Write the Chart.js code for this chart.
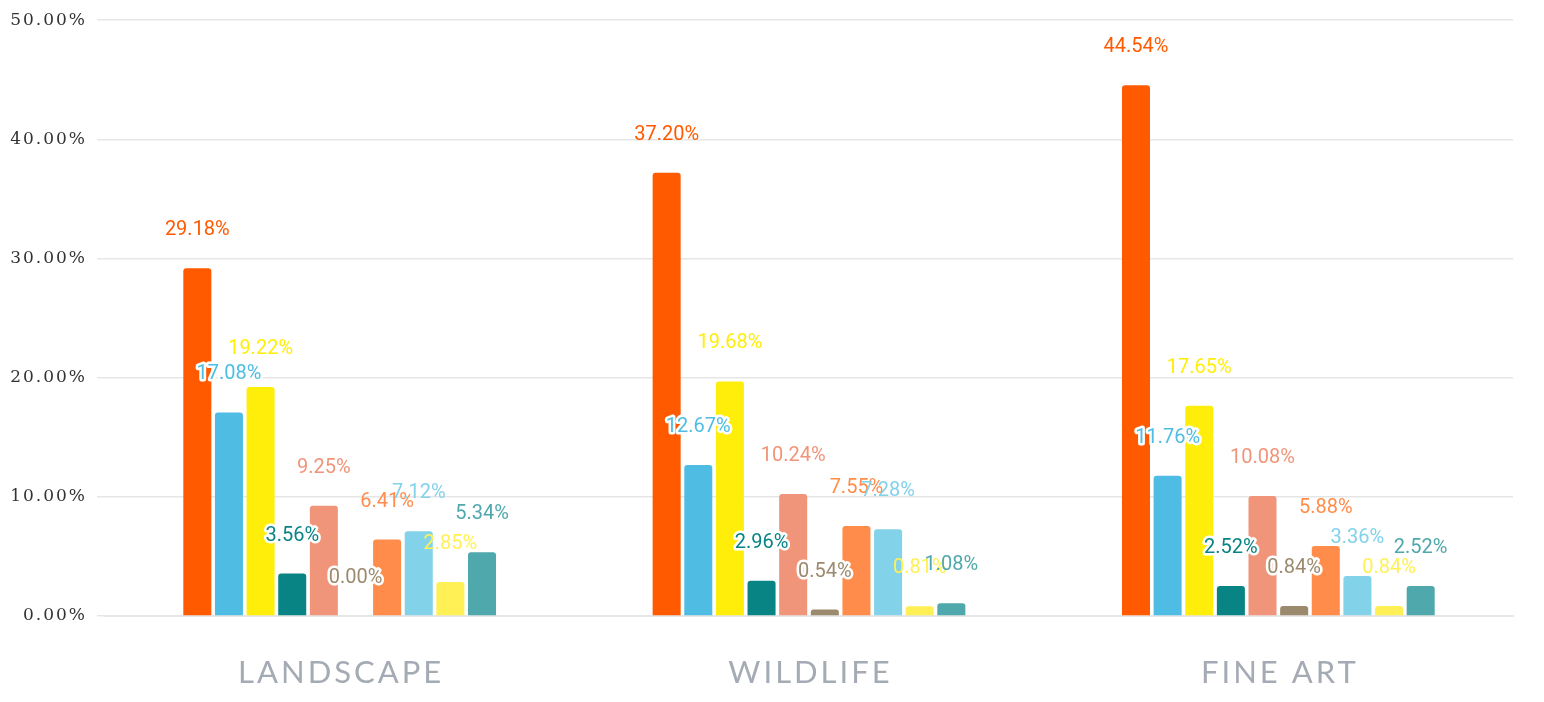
<!DOCTYPE html>
<html>
<head>
<meta charset="utf-8">
<script src="https://cdn.jsdelivr.net/npm/chart.js@4"></script>
<style>
  html, body { margin: 0; padding: 0; background: #fff; }
  #wrap { width: 1544px; height: 702px; }
</style>
</head>
<body>
<div id="wrap"><canvas id="genreChart"></canvas></div>
<script>
const categories = ['LANDSCAPE', 'WILDLIFE', 'FINE ART'];
const s1 = [29.18, 37.20, 44.54];
const s2 = [17.08, 12.67, 11.76];
const s3 = [19.22, 19.68, 17.65];
const s4 = [3.56, 2.96, 2.52];
const s5 = [9.25, 10.24, 10.08];
const s6 = [0.00, 0.54, 0.84];
const s7 = [6.41, 7.55, 5.88];
const s8 = [7.12, 7.28, 3.36];
const s9 = [2.85, 0.81, 0.84];
const s10 = [5.34, 1.08, 2.52];
const yTicks = [0, 10, 20, 30, 40, 50];

const series = [s1, s2, s3, s4, s5, s6, s7, s8, s9, s10];
const colors = ['#FF5A00', '#4FBDE3', '#FFEE0A', '#088484', '#F0957A',
                '#9C8A6E', '#FF8C4A', '#82D2EA', '#FFF155', '#4FA8AB'];
const outlined = [false, true, false, true, false, true, false, false, false, false];

// letter spaced text for the y ticks, reset afterwards
const spacing = {
  id: 'spacing',
  beforeDraw(chart) { chart.ctx.letterSpacing = '2px'; },
  beforeDatasetsDraw(chart) { chart.ctx.letterSpacing = '0px'; }
};

// value labels ~38px above each bar, category names under the axis
const valueLabels = {
  id: 'valueLabels',
  afterDatasetsDraw(chart) {
    const c = chart.ctx;
    c.save();
    c.letterSpacing = '0px';
    c.font = '20px Roboto';
    c.textAlign = 'center';
    c.textBaseline = 'middle';
    c.lineJoin = 'round';
    chart.data.datasets.forEach((ds, i) => {
      chart.getDatasetMeta(i).data.forEach((bar, j) => {
        const txt = ds.data[j].toFixed(2) + '%';
        const y = bar.y - 38;
        if (outlined[i]) {
          c.strokeStyle = '#fff';
          c.lineWidth = 5;
          c.strokeText(txt, bar.x, y);
        }
        c.fillStyle = colors[i];
        c.fillText(txt, bar.x, y);
      });
    });
    c.letterSpacing = '3px';
    c.font = '31px Lato';
    c.fillStyle = '#A5ABB5';
    const xs = chart.scales.x;
    categories.forEach((name, i) => {
      c.fillText(name, xs.getPixelForValue(i) + 1.5, chart.chartArea.bottom + 57);
    });
    c.restore();
  }
};

new Chart(document.getElementById('genreChart').getContext('2d'), {
  type: 'bar',
  data: {
    labels: categories,
    datasets: series.map((d, i) => ({
      label: 'Series ' + (i + 1),
      data: d,
      backgroundColor: colors[i],
      borderRadius: { topLeft: 3, topRight: 3 },
      borderSkipped: false,
      barPercentage: 0.886,
      categoryPercentage: 0.674
    }))
  },
  options: {
    responsive: true,
    maintainAspectRatio: false,
    animation: false,
    layout: { padding: { top: 8, right: 31, bottom: 78, left: 0 } },
    plugins: { legend: { display: false }, tooltip: { enabled: false } },
    scales: {
      x: {
        grid: { display: false },
        border: { color: '#e6e6e6', width: 2 },
        ticks: { display: false }
      },
      y: {
        min: 0, max: 50,
        afterBuildTicks(axis) { axis.ticks = yTicks.map(v => ({ value: v })); },
        afterFit(axis) { axis.width = 105; },
        grid: { color: '#e6e6e6', lineWidth: 1.5 },
        border: { display: false },
        ticks: {
          color: '#333',
          padding: 10,
          font: { family: 'DejaVu Serif', size: 17 },
          callback: v => v.toFixed(2) + '%'
        }
      }
    }
  },
  plugins: [spacing, valueLabels]
});
</script>
</body>
</html>
